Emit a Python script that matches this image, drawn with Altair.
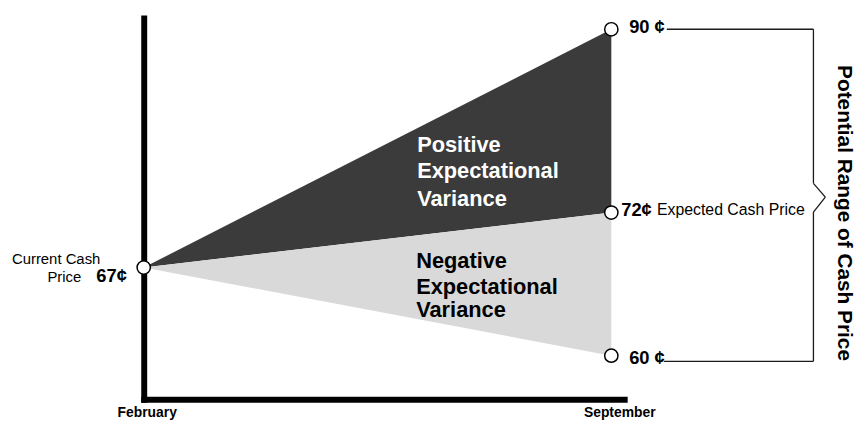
import altair as alt
import pandas as pd

FONT = "Liberation Sans"

# ---------------- data ----------------
fan_month = [2, 9]                      # 2 = February, 9 = September
month_names = ["February", "September"]
pos_upper = [67, 90]                    # positive expectational variance band
pos_lower = [67, 72]
neg_upper = [67, 72]                    # negative expectational variance band
neg_lower = [67, 60]

point_month = [2, 9, 9, 9]
point_price = [67, 90, 72, 60]
point_label = ["67¢", "90 ¢", "72¢", "60 ¢"]

# ---------------- frames ----------------
pos_df = pd.DataFrame({"month": fan_month, "upper": pos_upper, "lower": pos_lower})
neg_df = pd.DataFrame({"month": fan_month, "upper": neg_upper, "lower": neg_lower})
pts_df = pd.DataFrame({"month": point_month, "upper": point_price, "label": point_label})

# ---------------- scales / axes ----------------
x_scale = alt.Scale(domain=[2, 9.193], nice=False, zero=False)
y_scale = alt.Scale(domain=[56.54, 60, 67, 72, 90, 91.12],
                    range=[385, 341, 252, 196.5, 11.5, 0], nice=False, zero=False)

x_axis = alt.Axis(values=[2, 9],
                  labelExpr="datum.value == 2 ? 'February' : 'September'",
                  ticks=False, tickSize=0, grid=False, title=None,
                  domainWidth=6, domainColor="black", domainCap="square",
                  labelFontSize=14, labelFontWeight="bold", labelColor="black",
                  labelFont=FONT, labelPadding=6,
                  labelOffset={"condition": {"test": "datum.value == 9", "value": 8},
                               "value": 3},
                  labelFlush=False, labelOverlap=False)
y_axis = alt.Axis(labels=False, ticks=False, grid=False, title=None,
                  domainWidth=6, domainColor="black", domainCap="square")

X = alt.X("month:Q", scale=x_scale, axis=x_axis)
Y = alt.Y("upper:Q", scale=y_scale, axis=y_axis)

pos_area = alt.Chart(pos_df).mark_area(color="#3b3b3b", opacity=1).encode(
    x=X, y=Y, y2="lower:Q")
neg_area = alt.Chart(neg_df).mark_area(color="#d9d9d9", opacity=1).encode(
    x=X, y=Y, y2="lower:Q")

pts_base = alt.Chart(pts_df)
circles = pts_base.mark_point(shape="circle", filled=True, fill="white",
                              stroke="black", strokeWidth=1.5, size=180,
                              opacity=1).encode(x=X, y=Y)


def price_label(price, align, dx, dy):
    return pts_base.transform_filter(alt.datum.upper == price).mark_text(
        align=align, baseline="alphabetic", dx=dx, dy=dy, font=FONT,
        fontSize=18.5, fontWeight="bold", color="black").encode(
        x=X, y=Y, text="label:N")


labels = [
    price_label(67, "right", -17, 15),
    price_label(90, "left", 18, 4),
    price_label(72, "left", 10, 3),
    price_label(60, "left", 18, 8),
]

one = alt.Data(values=[{}])


def note(text, x, y, size=15, weight="normal", color="black", align="left",
         baseline="alphabetic", angle=0):
    return alt.Chart(one).mark_text(
        text=text, font=FONT, fontSize=size, fontWeight=weight, color=color,
        align=align, baseline=baseline, angle=angle).encode(
        x=alt.value(x), y=alt.value(y))


notes = [
    note("Current Cash", -133, 248),
    note("Price", -63, 267, align="right"),
    note("Expected Cash Price", 518, 199, 16),
    note("Positive", 276, 135.7, 22, "bold", "white"),
    note("Expectational", 276, 161.3, 22, "bold", "white"),
    note("Variance", 276, 190, 22, "bold", "white"),
    note("Negative", 275, 252.3, 22, "bold"),
    note("Expectational", 275, 278.3, 22, "bold"),
    note("Variance", 275, 302.3, 22, "bold"),
    note("Potential Range of Cash Price", 707, 197, 21, "bold",
         align="center", baseline="middle", angle=90),
]


def seg(x1, y1, x2, y2):
    return alt.Chart(one).mark_rule(color="#1a1a1a", strokeWidth=1.3).encode(
        x=alt.value(x1), y=alt.value(y1), x2=alt.value(x2), y2=alt.value(y2))


bracket = [
    seg(528, 11.5, 676, 11.5),
    seg(676, 11.5, 676, 167),
    seg(676, 167, 688, 181),
    seg(688, 181, 676, 196),
    seg(676, 196, 676, 346.7),
    seg(525, 346.7, 676, 346.7),
]

chart = alt.layer(pos_area, neg_area, *bracket, circles, *labels, *notes).properties(
    width=485, height=385,
    padding={"left": 137, "top": 8, "right": 237, "bottom": 25},
    autosize=alt.AutoSizeParams(type="none"),
).configure(font=FONT).configure_view(stroke=None)

chart.save("out.html", embed_options={"renderer": "svg", "actions": False})
